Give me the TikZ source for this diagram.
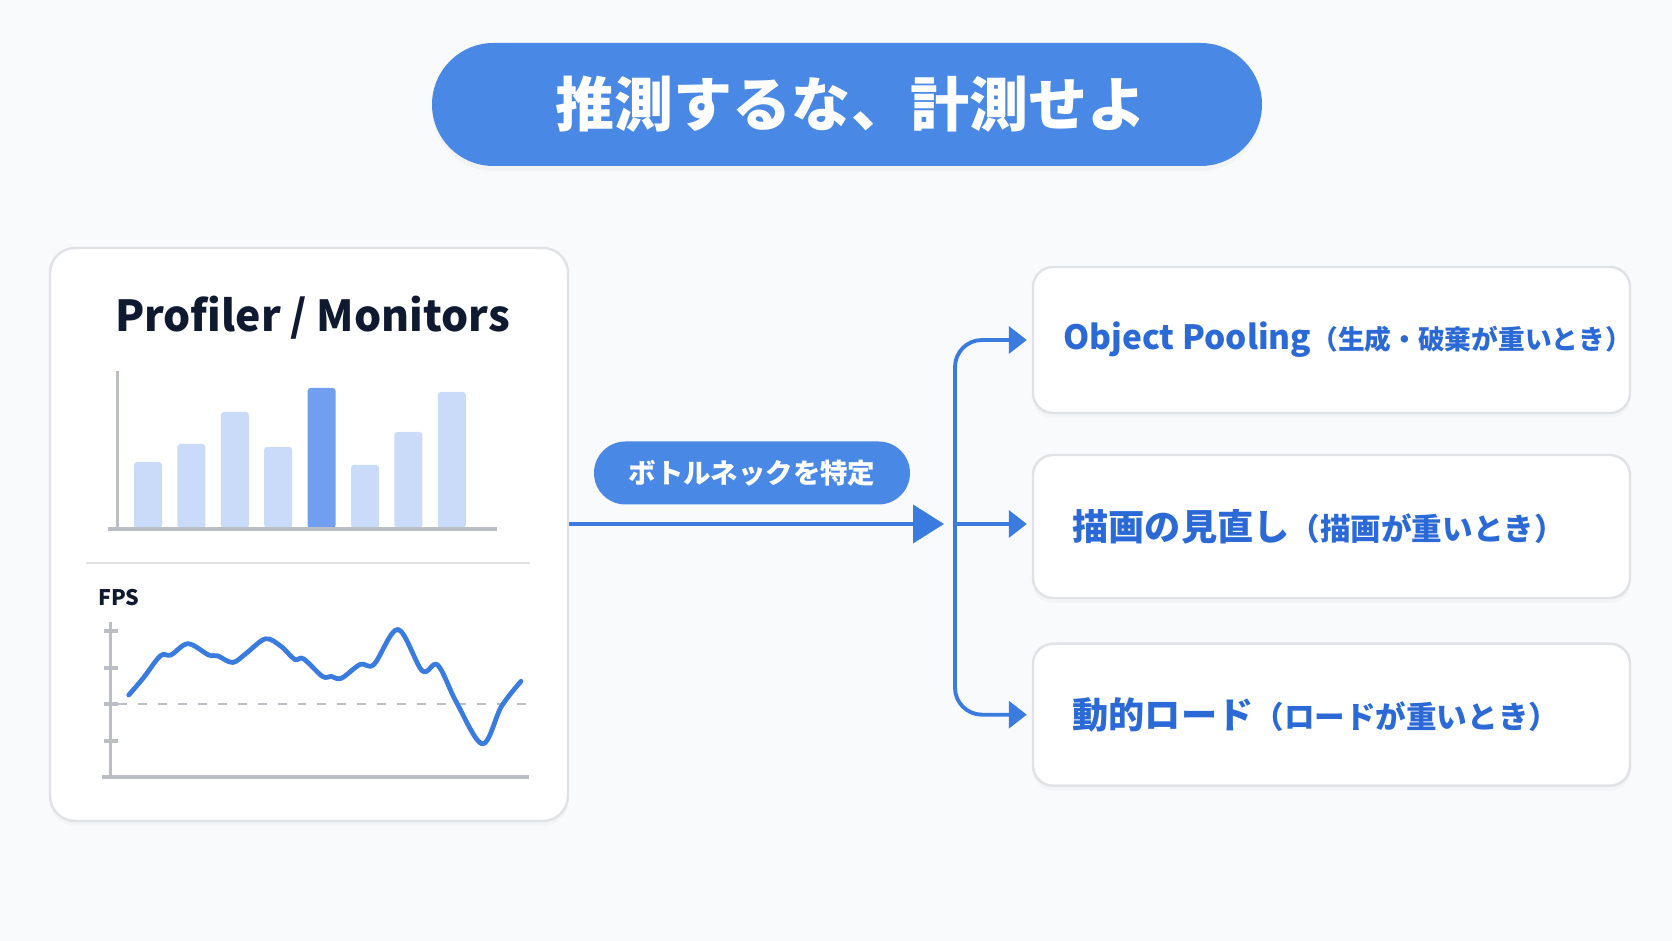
\documentclass[tikz,border=0pt]{standalone}
\usepackage{fontspec}
\setmainfont{Noto Sans CJK JP}
\usetikzlibrary{arrows.meta,shadows,positioning}

\definecolor{bgcol}{HTML}{F9FAFB}
\definecolor{pillblue}{HTML}{4A88E6}
\definecolor{flowblue}{HTML}{3A7BDF}
\definecolor{itemblue}{HTML}{2B6AD6}
\definecolor{navy}{HTML}{0F1A30}
\definecolor{barlight}{HTML}{C9DBF8}
\definecolor{bardark}{HTML}{6F9FEE}
\definecolor{axisgray}{HTML}{BBBEC5}
\definecolor{cardline}{HTML}{E0E2E6}

\tikzset{
  card/.style={draw=cardline, fill=white, line width=0.7pt, rounded corners=2mm,
    drop shadow={opacity=0.045, shadow xshift=0pt, shadow yshift=-0.5mm}},
  pill/.style={fill=pillblue, text=white, inner sep=0pt},
  flow/.style={draw=flowblue, line width=1.1pt},
  axis/.style={draw=axisgray, line width=0.9pt},
  itemtext/.style={anchor=west, inner sep=0pt, text=itemblue, font=\fontsize{10.3}{12}\selectfont\bfseries},
}

\begin{document}
\begin{tikzpicture}[x=0.1mm, y=-0.1mm]
  \fill[bgcol] (0,0) rectangle (1672,941);

  \node[pill, minimum width=83mm, minimum height=12.3mm, rounded corners=6.15mm,
    drop shadow={opacity=0.05, shadow xshift=0pt, shadow yshift=-0.5mm},
    font=\fontsize{16.8}{18}\selectfont\bfseries] (title) at (847,104.5) {\hspace{0.8mm}推測するな、計測せよ};

  % left card with the charts
  \node[card, minimum width=51.8mm, minimum height=57.3mm, rounded corners=2.5mm] (panel) at (309,534.5) {};
  \node[text=navy, inner sep=0pt, font=\fontsize{12.15}{14}\selectfont\bfseries] (ptitle) at (312.5,318) {Profiler / Monitors};

  \foreach \i/\t/\c in {0/462/barlight,1/444/barlight,2/412/barlight,3/447/barlight,
                        4/388/bardark,5/465/barlight,6/432/barlight,7/392/barlight}
    \fill[\c, rounded corners=0.3mm] ({134+43.4*\i},528) rectangle ({162+43.4*\i},\t);
  \draw[axis] (117.5,371) -- (117.5,529);
  \draw[axis] (107.5,529) -- (497,529);

  \draw[cardline, line width=0.8pt] (86,563) -- (530,563);

  \node[anchor=west, inner sep=0pt, text=navy, font=\fontsize{6.1}{8}\selectfont\bfseries] (fps) at (97.5,598) {FPS};
  \draw[axis] (110.6,622) -- (110.6,777);
  \draw[axis] (102,777) -- (529,777);
  \foreach \y in {631,668,704,741}
    \draw[axis] (103.5,\y) -- (117.5,\y);
  \draw[axisgray, line width=0.6pt, dash pattern=on 0.9mm off 1.1mm] (117.5,704) -- (527,704);
  \draw[flowblue, line width=1.35pt, line cap=round, line join=round] plot[smooth, tension=0.55] coordinates {
    (128.8,695) (143.3,678) (160.5,655.7) (170.9,655) (188,643.7) (208.7,655) (217.3,655.7)
    (232.8,662.5) (246.6,653) (265.5,638.8) (281,646.3) (294.8,659.5) (303.4,658.7)
    (322.4,676.4) (331,676.4) (341.3,678.3) (360.2,664.4) (374,664.4) (398,629.4)
    (422.2,670.8) (437.7,665) (456.7,702.8) (482.5,744) (501.4,706.5) (521,681.3)};

  % flow to the three fixes
  \coordinate (hub) at (955,524);
  \node[pill, minimum width=31.6mm, minimum height=6.3mm, rounded corners=3.15mm,
    font=\fontsize{7.8}{9}\selectfont\bfseries] (find) at (752,473) {ボトルネックを特定};
  \draw[flow, -{Triangle[length=3.1mm, width=3.8mm]}] (panel.east |- hub) -- ([xshift=-1.1mm]hub);

  \node[card, minimum width=59.7mm, minimum height=14.6mm] (pool) at (1331.5,340) {};
  \node[card, minimum width=59.7mm, minimum height=14.3mm] (redraw) at (1331.5,526.5) {};
  \node[card, minimum width=59.7mm, minimum height=14.2mm] (load) at (1331.5,714.7) {};

  \node[itemtext] (poollab) at ([xshift=3.1mm]pool.west) {{\fontsize{9.5}{12}\selectfont Object Pooling}{\fontsize{7.6}{10}\selectfont（生成・破棄が重いとき）}};
  \node[itemtext] (redrawlab) at ([xshift=4mm]redraw.west) {描画の見直し{\fontsize{8.7}{10}\selectfont（描画が重いとき）}};
  \node[itemtext] (loadlab) at ([xshift=4mm]load.west) {動的ロード{\fontsize{8.7}{10}\selectfont（ロードが重いとき）}};

  \draw[flow, rounded corners=2.7mm, -{Triangle[length=1.8mm, width=2.7mm]}] (hub) |- ([xshift=-0.5mm]pool.west);
  \draw[flow, -{Triangle[length=1.8mm, width=2.7mm]}] (hub) -- ([xshift=-0.5mm]redraw.west |- hub);
  \draw[flow, rounded corners=2.7mm, -{Triangle[length=1.8mm, width=2.7mm]}] (hub) |- ([xshift=-0.5mm]load.west);
\end{tikzpicture}
\end{document}
